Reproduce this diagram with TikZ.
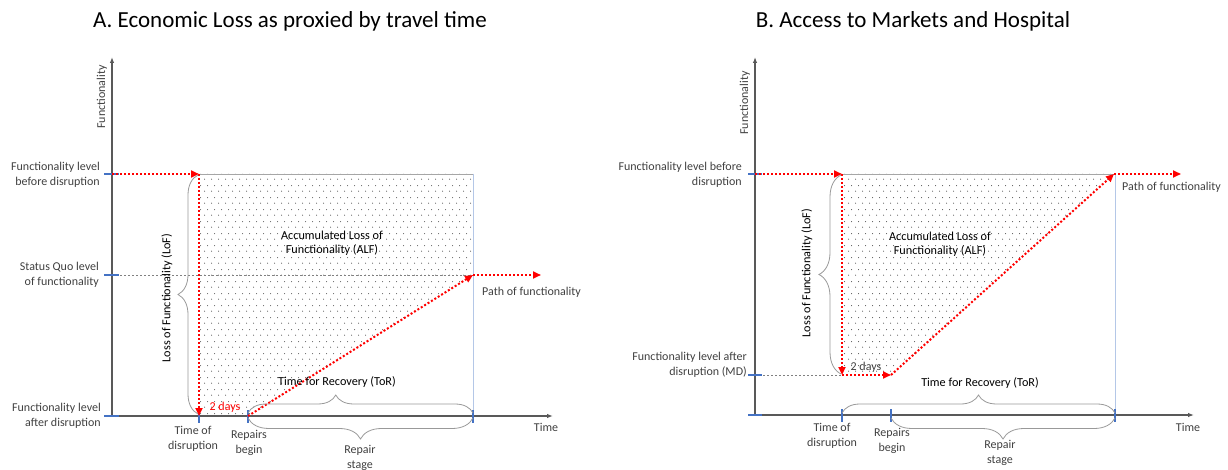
\documentclass[tikz,border=0pt]{standalone}
\usepackage{fontspec}
\setmainfont{Carlito}
\usetikzlibrary{arrows.meta,patterns,decorations.pathreplacing}
\definecolor{tickblue}{HTML}{4472C4}
\definecolor{txtgray}{HTML}{404040}
\definecolor{axisgray}{HTML}{595959}
\definecolor{edgeblue}{HTML}{B4C7E7}
\pgfdeclarepatternformonly{sparsedots}{\pgfpointorigin}{\pgfpoint{7pt}{12pt}}{\pgfpoint{7pt}{12pt}}{%
  \pgfpathcircle{\pgfpoint{1.75pt}{3pt}}{0.6pt}%
  \pgfpathcircle{\pgfpoint{5.25pt}{9pt}}{0.6pt}%
  \pgfusepath{fill}}
\begin{document}
\begin{tikzpicture}[x=1pt,y=-1pt,
  lbl/.style={font=\fontsize{12}{14.5}\selectfont, text=txtgray, align=center, inner sep=0pt},
  blk/.style={font=\fontsize{12.2}{14.5}\selectfont, text=black, align=center, inner sep=0pt},
  ttl/.style={font=\fontsize{23}{26}\selectfont, inner sep=0pt},
  axisline/.style={draw=axisgray, line width=1.1pt, -{Latex[length=6pt,width=4.5pt]}},
  tickmark/.style={draw=tickblue, line width=2pt},
  reddot/.style={draw=red, line width=2pt, dash pattern=on 2pt off 2pt},
  redarrow/.style={reddot, -{Triangle[length=8pt,width=7pt]}},
  graydash/.style={draw=gray, line width=0.8pt, dash pattern=on 2pt off 2pt},
  topedge/.style={draw=gray!70, line width=0.8pt},
  rightedge/.style={draw=edgeblue, line width=0.9pt},
  dotfill/.style={pattern=sparsedots, pattern color=black!65},
  bracestyle/.style={draw=gray!80, line width=0.8pt, decorate, decoration={brace, amplitude=#1}},
]
\useasboundingbox (0,0) rectangle (1228,470);

% ================= Panel A =================
\node[ttl] (tA) at (290,21) {A. Economic Loss as proxied by travel time};

\coordinate (Aorig) at (112,416);
\coordinate (Aytop) at (112,57);
\coordinate (Axend) at (553,416);
\coordinate (Atop) at (112,174);
\coordinate (Asq) at (112,275);
\coordinate (Ad) at (199,174);
\coordinate (Adb) at (199,416);
\coordinate (Ar) at (248,416);
\coordinate (Ae) at (473,275);
\coordinate (Aet) at (473,174);
\coordinate (Aeb) at (473,416);
\coordinate (Apath) at (541,275);

\fill[dotfill] (Ad) -- (Aet) -- (Ae) -- (Ar) -- (Adb) -- cycle;
\draw[topedge] (Ad) -- (Aet);
\draw[rightedge] (Aet) -- (Aeb);
\draw[graydash] (Asq) -- (Ae);

\draw[axisline] (Aorig) -- (Aytop);
\draw[axisline] (Aorig) -- (Axend);

\draw[tickmark] (104,174) -- (119,174);
\draw[tickmark] (104,275) -- (119,275);
\draw[tickmark] (104,416) -- (119,416);
\draw[tickmark] (199,410) -- (199,423);
\draw[tickmark] (248,410) -- (248,423);
\draw[tickmark] (473,410) -- (473,423);

\draw[redarrow] (Atop) -- (Ad);
\draw[redarrow] (Ad) -- (Adb);
\draw[redarrow] (Ar) -- (Ae);
\draw[redarrow] (Ae) -- (Apath);

\draw[bracestyle=20pt] (198,414) -- (198,175);
\draw[bracestyle=18pt, decoration={aspect=0.39}] (248,413) -- (473,413);
\draw[bracestyle=21pt] (473,418) -- (248,418);

\node[lbl, rotate=90] (Afy) at (102,97) {Functionality};
\node[lbl, anchor=east, align=right] (Al1) at (100,175) {Functionality level\\before disruption};
\node[lbl, anchor=east, align=right] (Al2) at (99,275) {Status Quo level\\of functionality};
\node[lbl, anchor=east, align=right] (Al3) at (101,416) {Functionality level\\after disruption};
\node[blk, rotate=90] (Alof) at (167,298) {Loss of Functionality (LoF)};
\node[blk] (Aalf) at (332,243) {Accumulated Loss of\\Functionality (ALF)};
\node[blk] (Ator) at (337,382) {Time for Recovery (ToR)};
\node[lbl, text=red] (A2d) at (225,407) {2 days};
\node[lbl, anchor=west] (Apf) at (482,292) {Path of functionality};
\node[lbl] (Atime) at (546,427) {Time};
\node[lbl] (Atd) at (193,439) {Time of\\disruption};
\node[lbl] (Arb) at (249,443) {Repairs\\begin};
\node[lbl] (Ars) at (360,458) {Repair\\stage};

% ================= Panel B =================
\node[ttl] (tB) at (913,21) {B. Access to Markets and Hospital};

\coordinate (Borig) at (755,415);
\coordinate (Bytop) at (755,57);
\coordinate (Bxend) at (1194,415);
\coordinate (Btop) at (755,174);
\coordinate (Bmd) at (755,375);
\coordinate (Bd) at (842,174);
\coordinate (Bdb) at (842,375);
\coordinate (Br) at (891,375);
\coordinate (Be) at (1114,174);
\coordinate (Bet) at (1115,174);
\coordinate (Beb) at (1115,415);
\coordinate (Bpath) at (1181,174);

\fill[dotfill] (Bd) -- (Be) -- (Br) -- (Bdb) -- cycle;
\draw[topedge] (Bd) -- (Bet);
\draw[rightedge] (Bet) -- (Beb);
\draw[graydash] (Bmd) -- (Bdb);

\draw[axisline] (Borig) -- (Bytop);
\draw[axisline] (Borig) -- (Bxend);

\draw[tickmark] (748,174) -- (762,174);
\draw[tickmark] (748,375) -- (762,375);
\draw[tickmark] (748,415) -- (762,415);
\draw[tickmark] (842,409) -- (842,422);
\draw[tickmark] (891,409) -- (891,422);
\draw[tickmark] (1115,409) -- (1115,422);

\draw[redarrow] (Btop) -- (Bd);
\draw[redarrow] (Bd) -- (Bdb);
\draw[redarrow] (Bdb) -- (Br);
\draw[redarrow] (Br) -- (Be);
\draw[redarrow] (Be) -- (Bpath);

\draw[bracestyle=22pt] (841,374) -- (841,175);
\draw[bracestyle=18pt] (842,413) -- (1115,413);
\draw[bracestyle=21pt] (1115,418) -- (891,418);

\node[lbl, rotate=90] (Bfy) at (745,103) {Functionality};
\node[lbl, anchor=east, align=right] (Bl1) at (742,175) {Functionality level before\\disruption};
\node[lbl, anchor=east, align=right] (Bl2) at (747,365) {Functionality level after\\disruption (MD)};
\node[blk, rotate=90] (Blof) at (807,273) {Loss of Functionality (LoF)};
\node[blk] (Balf) at (940,244) {Accumulated Loss of\\Functionality (ALF)};
\node[blk] (Btor) at (980,383) {Time for Recovery (ToR)};
\node[lbl] (B2d) at (866,367) {2 days};
\node[lbl, anchor=west] (Bpf) at (1122,187) {Path of functionality};
\node[lbl] (Btime) at (1188,427) {Time};
\node[lbl] (Btd) at (832,436) {Time of\\disruption};
\node[lbl] (Brb) at (892,441) {Repairs\\begin};
\node[lbl] (Brs) at (1000,453) {Repair\\stage};
\end{tikzpicture}
\end{document}
